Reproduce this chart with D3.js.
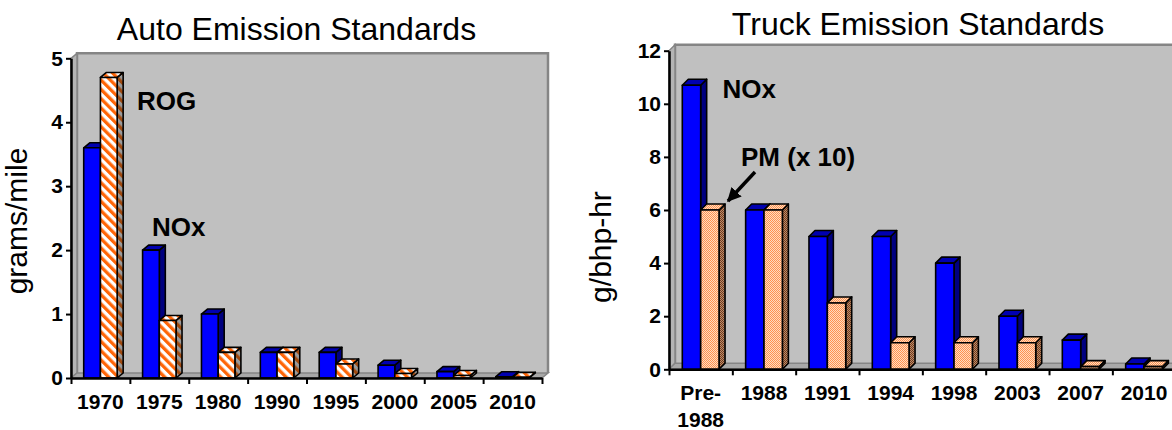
<!DOCTYPE html>
<html><head><meta charset="utf-8">
<script src="https://cdn.jsdelivr.net/npm/d3@7/dist/d3.min.js"></script>
<style>
body{margin:0;background:#fff}
svg{display:block;font-family:Arial,"Liberation Sans",sans-serif}
</style>
</head><body>
<svg id="c" width="1172" height="430"></svg>
<script>
// Light-duty vehicle standards (grams/mile)
const autoYears = ["1970","1975","1980","1990","1995","2000","2005","2010"];
const autoNOx   = [3.6, 2.0, 1.0, 0.4, 0.4, 0.2, 0.1, 0.02];
const autoROG   = [4.7, 0.9, 0.4, 0.4, 0.22, 0.07, 0.04, 0.01];
const autoTicks = [0,1,2,3,4,5];

// Heavy-duty truck standards (g/bhp-hr); PM shown multiplied by 10
const truckYears = ["Pre-\n1988","1988","1991","1994","1998","2003","2007","2010"];
const truckNOx   = [10.7, 6.0, 5.0, 5.0, 4.0, 2.0, 1.1, 0.2];
const truckPM10  = [6.0, 6.0, 2.5, 1.0, 1.0, 1.0, 0.1, 0.1];
const truckTicks = [0,2,4,6,8,10,12];

const svg = d3.select("#c");
const defs = svg.append("defs");

// diagonal orange stripes
function stripes(id, bg, fg) {
  const p = defs.append("pattern").attr("id", id).attr("patternUnits","userSpaceOnUse")
    .attr("width", 6.6).attr("height", 6.6).attr("patternTransform","rotate(-45)");
  p.append("rect").attr("width",6.6).attr("height",6.6).attr("fill",bg);
  p.append("rect").attr("width",3.3).attr("height",6.6).attr("fill",fg);
}
stripes("rogFront", "#ffffff", "#ff6608");
stripes("rogSide", "#9a9a9a", "#a04a10");

// fine checker fill
function checker(id, a, b) {
  const p = defs.append("pattern").attr("id", id).attr("patternUnits","userSpaceOnUse")
    .attr("width", 2).attr("height", 2);
  p.append("rect").attr("width",2).attr("height",2).attr("fill",a);
  p.append("rect").attr("width",1).attr("height",1).attr("fill",b);
  p.append("rect").attr("x",1).attr("y",1).attr("width",1).attr("height",1).attr("fill",b);
}
checker("pmFront", "#ffdcc0", "#ff9250");
checker("pmSide", "#c08a66", "#6e3e22");

const blueFaces = {front:"#0000ff", top:"#0000b0", side:"#000080"};
const rogFaces  = {front:"url(#rogFront)", top:"url(#rogFront)", side:"url(#rogSide)"};
const pmFaces   = {front:"url(#pmFront)", top:"url(#pmFront)", side:"url(#pmSide)"};

function drawChart(cfg) {
  const g = svg.append("g");
  const {x0, x1, y0, yTop, dx, dy} = cfg;
  const y = d3.scaleLinear().domain([0, cfg.yMax]).range([y0, yTop]);
  const xb = d3.scaleBand().domain(cfg.cats).range([x0, x1]);
  const xl = d3.scaleLinear().domain([0, cfg.cats.length]).range([x0, x1]);
  const bw = xb.bandwidth() * cfg.barFrac;

  // walls
  g.append("polygon")
    .attr("points", [[x0+dx, yTop-dy],[x1+dx, yTop-dy],[x1+dx, y0-dy],[x0+dx, y0-dy]].join(" "))
    .attr("fill", "#c0c0c0");
  g.append("polyline")
    .attr("points", [[x0+dx, y0-dy],[x0+dx, yTop-dy],[x1+dx, yTop-dy],[x1+dx, y0-dy]].join(" "))
    .attr("fill", "none").attr("stroke", "#858585").attr("stroke-width", 2.5);
  g.append("polygon")
    .attr("points", [[x0, y0],[x0, yTop],[x0+dx, yTop-dy],[x0+dx, y0-dy]].join(" "))
    .attr("fill", "#b4b4b4").attr("stroke", "#858585").attr("stroke-width", 1.5);
  g.append("polygon")
    .attr("points", [[x0, y0],[x1, y0],[x1+dx, y0-dy],[x0+dx, y0-dy]].join(" "))
    .attr("fill", "#a8a8a8").attr("stroke", "#858585").attr("stroke-width", 1.5);

  // bars
  cfg.cats.forEach((c, i) => {
    const cx = xb(c) + xb.bandwidth() / 2;
    cfg.series.forEach((s, k) => {
      const v = s.values[i];
      const bx = cx - bw + k * bw;
      const by = y(v);
      const f = s.faces;
      const bar = g.append("g").attr("stroke", "#000").attr("stroke-width", 1.6)
        .attr("stroke-linejoin", "round");
      bar.append("polygon")
        .attr("points", [[bx+bw, by],[bx+bw+dx, by-dy],[bx+bw+dx, y0-dy],[bx+bw, y0]].join(" "))
        .attr("fill", f.side);
      bar.append("polygon")
        .attr("points", [[bx, by],[bx+dx, by-dy],[bx+bw+dx, by-dy],[bx+bw, by]].join(" "))
        .attr("fill", f.top);
      bar.append("rect").attr("x", bx).attr("y", by)
        .attr("width", bw).attr("height", y0 - by).attr("fill", f.front);
    });
  });

  // axes
  const ya = g.append("g").attr("transform", `translate(${x0},0)`)
    .call(d3.axisLeft(y).tickValues(cfg.ticks).tickSize(5).tickSizeOuter(0).tickPadding(3)
      .tickFormat(d3.format("d")));
  const xa = g.append("g").attr("transform", `translate(0,${y0})`)
    .call(d3.axisBottom(xl).tickValues(d3.range(cfg.cats.length + 1)).tickSize(6)
      .tickSizeOuter(0).tickFormat(""));
  [ya, xa].forEach(a => {
    a.select(".domain").attr("stroke", "#000").attr("stroke-width", 2.5);
    a.selectAll(".tick line").attr("stroke", "#000").attr("stroke-width", 2);
  });
  ya.selectAll(".tick text").attr("fill", "#000")
    .style("font-size", "21px").style("font-weight", "bold")
    .style("font-family", "Arial, 'Liberation Sans', sans-serif");

  // category labels
  cfg.cats.forEach(c => {
    const t = g.append("text").attr("x", xb(c) + xb.bandwidth() / 2).attr("y", cfg.labelY)
      .attr("text-anchor", "middle").style("font-size", "21px").style("font-weight", "bold");
    c.split("\n").forEach((line, j) => {
      t.append("tspan").attr("x", xb(c) + xb.bandwidth() / 2).attr("dy", j ? 27 : 0).text(line);
    });
  });

  // chart title and value-axis title
  g.append("text").attr("x", cfg.titleX).attr("y", cfg.titleY).attr("text-anchor", "middle")
    .style("font-size", "32px").text(cfg.title);
  g.append("text").attr("transform", `translate(${cfg.yTitleX},${cfg.yTitleY}) rotate(-90)`)
    .attr("text-anchor", "middle").style("font-size", "30px").text(cfg.yTitle);

  cfg.notes.forEach(n => {
    g.append("text").attr("x", n.x).attr("y", n.y)
      .style("font-size", "26px").style("font-weight", "bold").text(n.text);
  });
  return g;
}

drawChart({
  cats: autoYears, yMax: 5, ticks: autoTicks,
  series: [{values: autoNOx, faces: blueFaces}, {values: autoROG, faces: rogFaces}],
  x0: 71, x1: 542, y0: 378, yTop: 58.3, dx: 6, dy: 5, barFrac: 0.284, labelY: 409,
  title: "Auto Emission Standards", titleX: 296.5, titleY: 40,
  yTitle: "grams/mile", yTitleX: 27, yTitleY: 221,
  notes: [{text: "ROG", x: 137, y: 110}, {text: "NOx", x: 152, y: 236}]
});

const truck = drawChart({
  cats: truckYears, yMax: 12, ticks: truckTicks,
  series: [{values: truckNOx, faces: blueFaces}, {values: truckPM10, faces: pmFaces}],
  x0: 669, x1: 1175.7, y0: 369.3, yTop: 50.7, dx: 6, dy: 6, barFrac: 0.29, labelY: 400,
  title: "Truck Emission Standards", titleX: 918, titleY: 35,
  yTitle: "g/bhp-hr", yTitleX: 611, yTitleY: 247,
  notes: [{text: "NOx", x: 722.5, y: 98}, {text: "PM (x 10)", x: 741, y: 166}]
});

// pointer from the PM label to the first PM bar
defs.append("marker").attr("id", "head").attr("viewBox", "0 0 10 10")
  .attr("refX", 9).attr("refY", 5).attr("markerWidth", 4).attr("markerHeight", 4)
  .attr("orient", "auto")
  .append("path").attr("d", "M0,0 L10,5 L0,10 Z").attr("fill", "#000");
truck.append("line").attr("x1", 755).attr("y1", 172).attr("x2", 728).attr("y2", 201)
  .attr("stroke", "#000").attr("stroke-width", 3.5).attr("marker-end", "url(#head)");
</script>
</body></html>
